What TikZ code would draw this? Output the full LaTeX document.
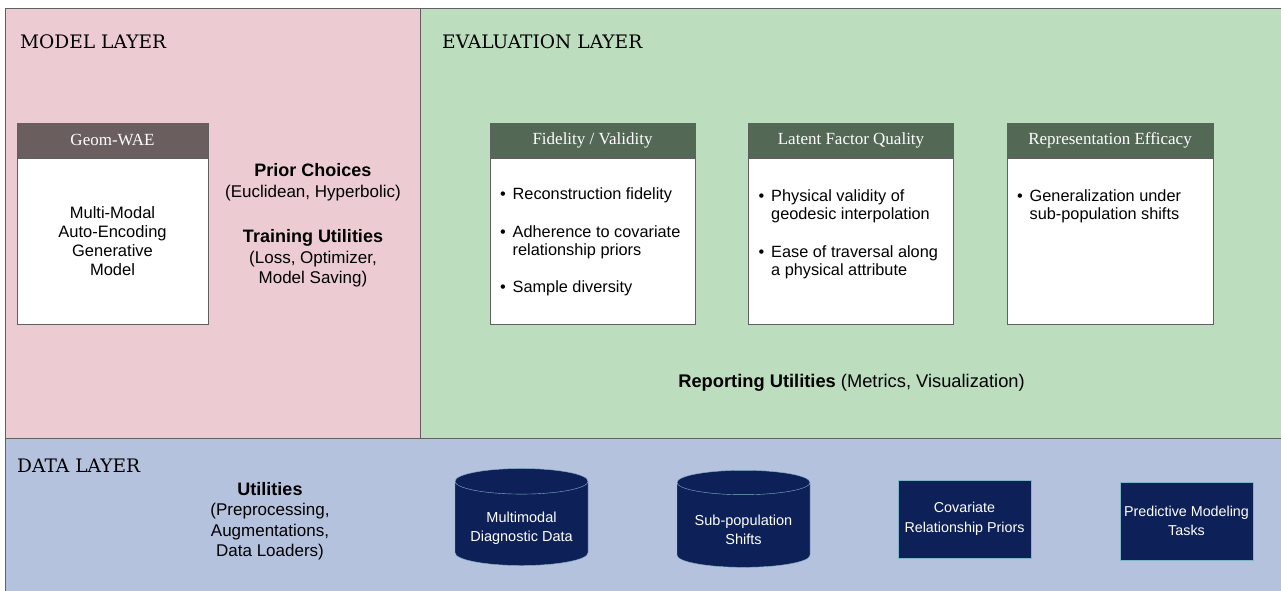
\documentclass[tikz,border=0pt]{standalone}
\usepackage{fontspec}
\setmainfont{Liberation Sans}
\newfontfamily\layerfont{DejaVu Serif}
\newfontfamily\headfont{Liberation Serif}
\usetikzlibrary{shapes,positioning}
\definecolor{modelpink}{RGB}{236,204,210}
\definecolor{evalgreen}{RGB}{189,221,191}
\definecolor{datablue}{RGB}{181,194,222}
\definecolor{layerline}{RGB}{96,96,96}
\definecolor{headbrown}{RGB}{106,94,94}
\definecolor{headgreen}{RGB}{84,104,86}
\definecolor{storenavy}{RGB}{13,33,88}
\definecolor{storeline}{RGB}{130,180,200}
% pushes store labels below the top lid
\newcommand{\lidgap}{\rule{0pt}{20pt}}

\begin{document}
\begin{tikzpicture}[x=1pt, y=-1pt,
    layer/.style={draw=layerline, line width=0.8pt, inner sep=0pt, anchor=north west},
    layertitle/.style={anchor=west, inner sep=0pt, font=\layerfont\fontsize{18.6}{20}\selectfont},
    header/.style={draw=layerline, text=white, minimum height=35pt, inner sep=0pt,
        font=\headfont\fontsize{17}{19}\selectfont},
    card/.style={draw=layerline, fill=white, minimum height=166pt, inner sep=0pt},
    bullets/.style={anchor=north west, inner sep=0pt, align=left,
        font=\fontsize{16.3}{18}\selectfont},
    note/.style={align=center, inner sep=0pt, font=\fontsize{17}{20.5}\selectfont},
    store/.style={cylinder, shape border rotate=90, aspect=0.25, draw=storeline,
        fill=storenavy, text=white, minimum width=133pt, minimum height=97pt,
        align=center, inner sep=0pt, font=\fontsize{14.5}{19}\selectfont},
    task/.style={draw=storeline, fill=storenavy, text=white, minimum width=133pt,
        minimum height=78pt, align=center, inner sep=0pt, font=\fontsize{14.3}{19.5}\selectfont}]
    \useasboundingbox (0,0) rectangle (1281,591);

    % Layers
    \node[layer, fill=modelpink, minimum width=415pt, minimum height=430pt] (modellayer) at (5,8) {};
    \node[layer, fill=evalgreen, minimum width=863pt, minimum height=430pt] (evallayer) at (420,8) {};
    \node[layer, fill=datablue, minimum width=1278pt, minimum height=155pt] (datalayer) at (5,438) {};
    \node[layertitle] (modeltitle) at (20,42) {MODEL LAYER};
    \node[layertitle] (evaltitle) at (442,42) {EVALUATION LAYER};
    \node[layertitle] (datatitle) at (17,466) {DATA LAYER};

    % Model layer
    \node[header, fill=headbrown, minimum width=191pt] (geomhead) at (112.5,140.5) {Geom-WAE};
    \node[card, minimum width=191pt, below=0pt of geomhead, align=center,
        font=\fontsize{16.5}{19}\selectfont] (geombody)
        {Multi-Modal\\Auto-Encoding\\Generative\\Model};
    \node[note] (priors) at (313,182)
        {{\fontsize{18}{20}\selectfont\bfseries Prior Choices}\\(Euclidean, Hyperbolic)};
    \node[note] (training) at (313,258.5)
        {{\fontsize{18}{20}\selectfont\bfseries Training Utilities}\\(Loss, Optimizer,\\Model Saving)};

    % Evaluation layer
    \node[header, fill=headgreen, minimum width=205pt] (fidhead) at (592.5,140.5) {Fidelity / Validity};
    \node[card, minimum width=205pt, below=0pt of fidhead] (fidcard) {};
    \node[bullets] (fidlist) at ([xshift=10pt, yshift=-28pt]fidcard.north west)
        {\begin{tabular}{@{}l@{\hspace{7pt}}l@{}}
            \textbullet & Reconstruction fidelity\\[20pt]
            \textbullet & Adherence to covariate\\
                        & relationship priors\\[19pt]
            \textbullet & Sample diversity
        \end{tabular}};

    \node[header, fill=headgreen, minimum width=205pt] (latenthead) at (851,140.5) {Latent Factor Quality};
    \node[card, minimum width=205pt, below=0pt of latenthead] (latentcard) {};
    \node[bullets] (latentlist) at ([xshift=10pt, yshift=-30pt]latentcard.north west)
        {\begin{tabular}{@{}l@{\hspace{7pt}}l@{}}
            \textbullet & Physical validity of\\
                        & geodesic interpolation\\[20pt]
            \textbullet & Ease of traversal along\\
                        & a physical attribute
        \end{tabular}};

    \node[header, fill=headgreen, minimum width=206pt] (reprhead) at (1110,140.5) {Representation Efficacy};
    \node[card, minimum width=206pt, below=0pt of reprhead] (reprcard) {};
    \node[bullets] (reprlist) at ([xshift=10pt, yshift=-30pt]reprcard.north west)
        {\begin{tabular}{@{}l@{\hspace{7pt}}l@{}}
            \textbullet & Generalization under\\
                        & sub-population shifts
        \end{tabular}};

    \node[note, font=\fontsize{18.3}{20}\selectfont] (reporting) at (851.5,382.5)
        {{\bfseries Reporting Utilities} (Metrics, Visualization)};

    % Data layer
    \node[note] (utilities) at (270,521)
        {{\fontsize{18}{20}\selectfont\bfseries Utilities}\\(Preprocessing,\\Augmentations,\\Data Loaders)};
    \node[store] (diagdata) at (521.5,523.5) {\lidgap Multimodal\\Diagnostic Data};
    \node[store] (subpop) at (743.5,525) {\lidgap Sub-population\\Shifts};
    \node[task] (covpriors) at (964.5,519) {Covariate\\Relationship Priors};
    \node[task] (predtasks) at (1186.5,521) {Predictive Modeling\\Tasks};
\end{tikzpicture}
\end{document}
